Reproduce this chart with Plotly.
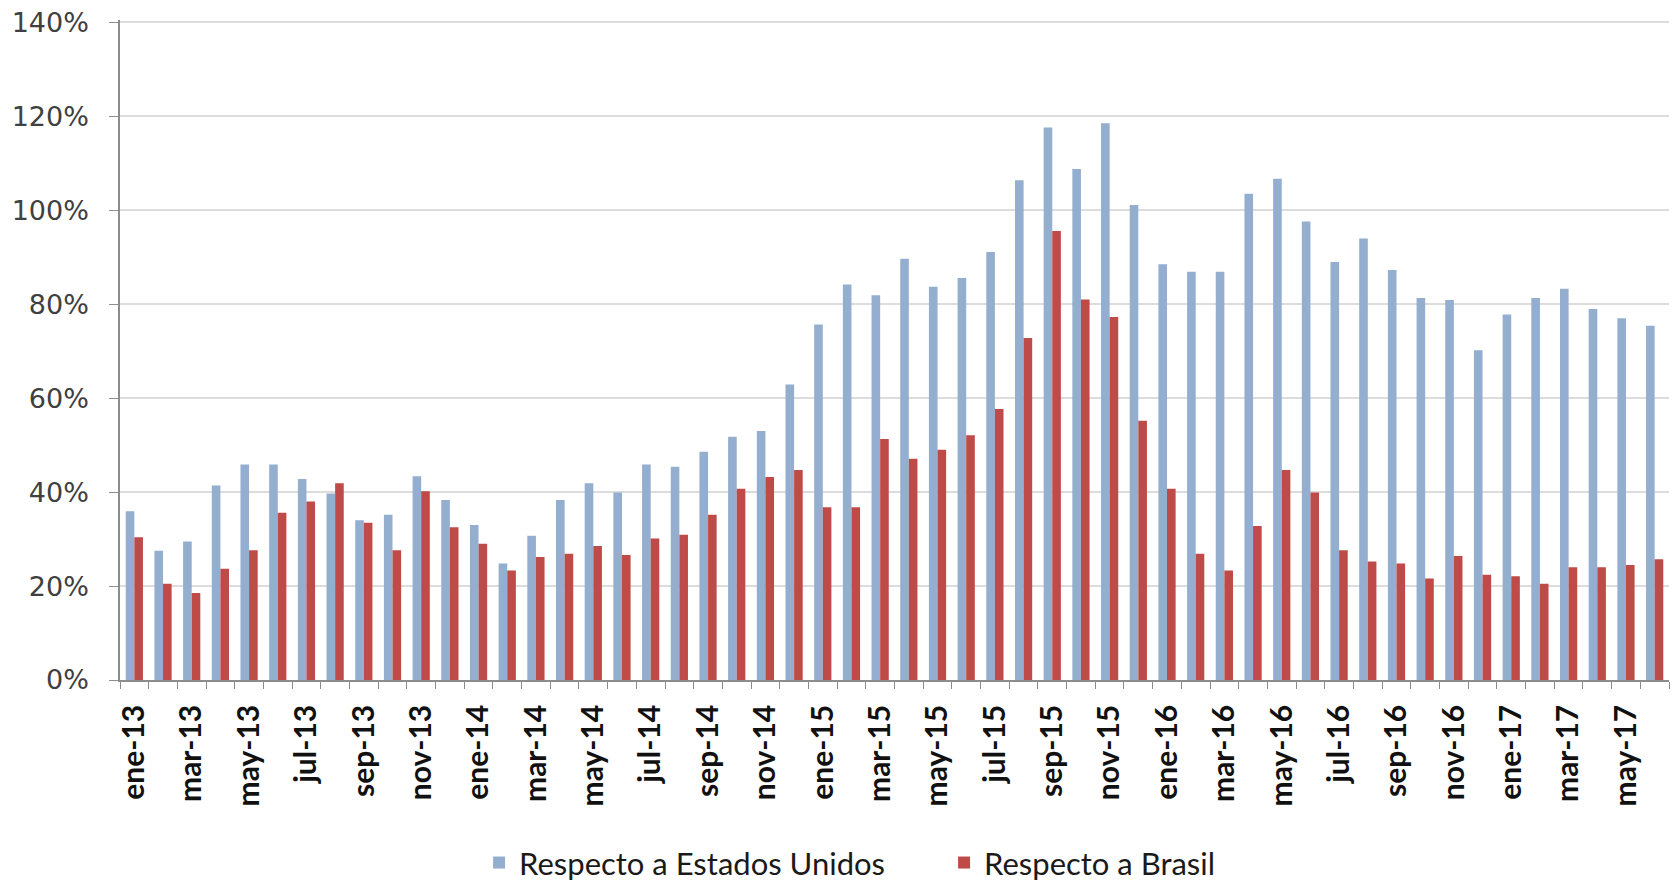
import plotly.graph_objects as go

months = [
    "ene-13", "feb-13", "mar-13", "abr-13", "may-13", "jun-13", "jul-13", "ago-13", "sep-13", "oct-13", "nov-13", "dic-13",
    "ene-14", "feb-14", "mar-14", "abr-14", "may-14", "jun-14", "jul-14", "ago-14", "sep-14", "oct-14", "nov-14", "dic-14",
    "ene-15", "feb-15", "mar-15", "abr-15", "may-15", "jun-15", "jul-15", "ago-15", "sep-15", "oct-15", "nov-15", "dic-15",
    "ene-16", "feb-16", "mar-16", "abr-16", "may-16", "jun-16", "jul-16", "ago-16", "sep-16", "oct-16", "nov-16", "dic-16",
    "ene-17", "feb-17", "mar-17", "abr-17", "may-17", "jun-17",
]

estados_unidos = [
    35.9, 27.5, 29.5, 41.4, 45.9, 45.9, 42.8, 39.7, 34.0, 35.2, 43.4, 38.3,
    33.0, 24.8, 30.7, 38.3, 41.9, 39.9, 45.9, 45.4, 48.6, 51.8, 53.0, 62.9,
    75.7, 84.2, 81.9, 89.7, 83.7, 85.6, 91.1, 106.4, 117.6, 108.8, 118.5, 101.1,
    88.5, 86.9, 86.9, 103.5, 106.7, 97.6, 89.0, 94.0, 87.3, 81.3, 80.9, 70.2,
    77.8, 81.3, 83.3, 79.0, 77.0, 75.4,
]

brasil = [
    30.4, 20.5, 18.5, 23.7, 27.6, 35.6, 38.0, 41.9, 33.5, 27.6, 40.2, 32.5,
    29.0, 23.3, 26.2, 26.9, 28.5, 26.6, 30.1, 30.9, 35.2, 40.7, 43.2, 44.7,
    36.8, 36.8, 51.3, 47.1, 49.0, 52.1, 57.7, 72.8, 95.6, 81.0, 77.3, 55.2,
    40.7, 26.9, 23.3, 32.8, 44.7, 39.9, 27.6, 25.2, 24.8, 21.6, 26.4, 22.4,
    22.1, 20.5, 24.0, 24.0, 24.5, 25.7,
]

series_names = ["Respecto a Estados Unidos", "Respecto a Brasil"]
y_ticks = [0, 0.2, 0.4, 0.6, 0.8, 1.0, 1.2, 1.4]

idx = list(range(len(months)))

fig = go.Figure()
fig.add_trace(go.Bar(
    x=idx, y=[v / 100 for v in estados_unidos], name=series_names[0],
    marker=dict(color="#93AECF", line=dict(width=0)),
))
fig.add_trace(go.Bar(
    x=idx, y=[v / 100 for v in brasil], name=series_names[1],
    marker=dict(color="#BE4B48", line=dict(width=0)),
))

fig.update_layout(
    width=1670, height=876,
    margin=dict(l=112, r=9, t=12, b=204, autoexpand=False),
    paper_bgcolor="white", plot_bgcolor="white",
    barmode="group", bargap=0.4, bargroupgap=0,
    showlegend=True,
    legend=dict(
        orientation="h", x=0.532, xanchor="center", y=-0.318, yanchor="bottom",
        font=dict(family="Lato", size=31, color="#1a1a1a"),
        itemsizing="constant", itemwidth=30, tracegroupgap=0,
        entrywidth=420, entrywidthmode="pixels",
    ),
    xaxis=dict(
        range=[-0.5, len(months) - 0.5], automargin=False,
        tickmode="array", tickvals=idx[::2], ticktext=months[::2],
        tickangle=-90, ticks="", ticklabelstandoff=11,
        tickfont=dict(family="Lato", size=30, color="#111", weight="bold"),
        showline=True, linecolor="#8C8C8C", linewidth=1.5,
        showgrid=False, zeroline=False,
        minor=dict(ticks="outside", tick0=-0.5, dtick=1, ticklen=7,
                   tickcolor="#8C8C8C", tickwidth=1, showgrid=False),
        fixedrange=True,
    ),
    yaxis=dict(
        range=[0, 1.405], tickmode="array", tickvals=y_ticks, tickformat=".0%",
        tickfont=dict(family="DejaVu Sans", size=27, color="#404040"),
        showline=True, linecolor="#8C8C8C", linewidth=1.5, automargin=False,
        ticks="outside", ticklen=9, tickcolor="#8C8C8C", ticklabelstandoff=15,
        ticklabeloverflow="allow",
        showgrid=True, gridcolor="#DCDCDC", gridwidth=1.5,
        zeroline=False,
    ),
)

fig.write_html("out.html")
